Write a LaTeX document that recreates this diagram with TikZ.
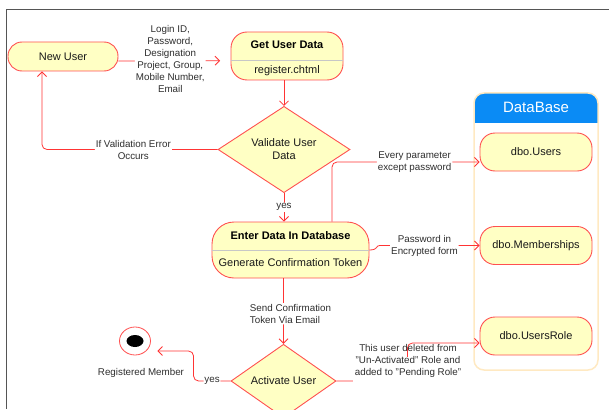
\documentclass[tikz,border=0pt]{standalone}
\usepackage{fontspec}
\setmainfont{Liberation Sans}
\usetikzlibrary{shapes.geometric,arrows.meta,calc}
\definecolor{flowred}{HTML}{FF3434}
\definecolor{boxred}{HTML}{FF5050}
\definecolor{boxfill}{HTML}{FFFFC4}
\definecolor{dbblue}{HTML}{0A8BF5}
\definecolor{dbedge}{HTML}{FFE9C2}
\definecolor{framegray}{HTML}{555555}
\definecolor{labelgray}{HTML}{2E2E2E}
\begin{document}
\begin{tikzpicture}[x=1pt,y=-1pt,
  actbox/.style={draw=boxred, fill=boxfill, line width=0.9pt, inner sep=0pt},
  decision/.style={diamond, draw=boxred, fill=boxfill, line width=0.9pt, inner sep=0pt,
    align=center, font=\fontsize{11}{13}\selectfont, text=black!90},
  nodetext/.style={font=\fontsize{11}{13}\selectfont, text=black!90},
  titletext/.style={font=\fontsize{11}{13}\selectfont\bfseries, text=black, inner sep=0pt},
  flow/.style={draw=flowred, line width=0.8pt, -{Straight Barb[length=4.5pt,width=9pt]},
    rounded corners=5pt},
  flowlabel/.style={fill=white, inner sep=1pt, align=center,
    font=\fontsize{9.8}{12}\selectfont, text=labelgray},
  divider/.style={draw=black!22, line width=0.8pt},
]
\useasboundingbox (0,0) rectangle (609,409);

% page frame
\draw[framegray, line width=0.9pt] (609,9) -- (6.5,9) -- (6.5,409);

% activities
\node[actbox, nodetext, rounded corners=14pt, minimum width=110pt, minimum height=29pt]
  (nu) at (63,56.5) {New User};

\node[actbox, rounded corners=16pt, minimum width=112pt, minimum height=48pt] (gud) at (287,56) {};
\draw[divider] ($(gud.west)+(0.6,4)$) -- ($(gud.east)+(-0.6,4)$);
\node[titletext] (gudt) at (287,45) {Get User Data};
\node[nodetext, inner sep=0pt] (guds) at (287,71) {register.chtml};

\node[decision, minimum width=132pt, minimum height=65pt] (val) at (284,149.5) {Validate User\\Data};

\node[actbox, rounded corners=22pt, minimum width=157pt, minimum height=56pt] (ed) at (290.5,250) {};
\draw[divider] ($(ed.west)+(0.6,0)$) -- ($(ed.east)+(-0.6,0)$);
\node[titletext] (edt) at (290.5,235.5) {Enter Data In Database};
\node[nodetext, inner sep=0pt] (eds) at (290.5,262.5) {Generate Confirmation Token};

\node[decision, minimum width=105pt, minimum height=51pt] (act) at (283.5,381) {Activate User};

% final state
\node[ellipse, draw=boxred, fill=white, line width=0.8pt, inner sep=0pt,
  minimum width=31pt, minimum height=28pt] (fin) at (135,341) {};
\node[ellipse, fill=black, inner sep=0pt, minimum width=17pt, minimum height=12pt]
  (fincore) at (fin.center) {};
\node[flowlabel, fill=none] (finl) at (141,373) {Registered Member};

% database container
\begin{scope}
  \clip[rounded corners=10pt] (474,93) rectangle (598,370);
  \fill[dbblue] (474,93) rectangle (598,122.5);
\end{scope}
\draw[dbedge, line width=1.5pt, rounded corners=10pt] (474,93) rectangle (598,370);
\node[text=white, font=\fontsize{15}{18}\selectfont] (dbt) at (536,107.5) {DataBase};

\node[actbox, nodetext, rounded corners=15pt, minimum width=112pt, minimum height=38pt]
  (users) at (536,152) {dbo.Users};
\node[actbox, nodetext, rounded corners=15pt, minimum width=112pt, minimum height=38pt]
  (memb) at (536,245.5) {dbo.Memberships};
\node[actbox, nodetext, rounded corners=15pt, minimum width=112pt, minimum height=38pt]
  (role) at (536,336) {dbo.UsersRole};

% control flow
\draw[flow] ($(nu.east)+(0,4.5)$) -- ($(gud.west)+(-10.5,4.7)$)
  node[flowlabel, pos=0.51, yshift=1.5pt]
  {Login ID,\\Password,\\Designation\\Project, Group,\\Mobile Number,\\Email};

\draw[flow] (gud.south -| val.north) -- (val.north);

\draw[flow] (val.west) -| ([xshift=-21pt]nu.south)
  node[flowlabel, pos=0.24] {If Validation Error\\Occurs};

\draw[flow] (val.south) -- (val.south |- ed.north) node[flowlabel, pos=0.5] {yes};

\draw[flow] ([xshift=41.5pt]ed.north) |- ([yshift=-10pt]users.west)
  node[flowlabel, pos=0.78] {Every parameter\\except password};

\draw[flow] (ed.east) .. controls +(9,0) and +(-9,0) .. ($(memb.west)+(-95,0)$)
  -- (memb.west) node[flowlabel, pos=0.42] {Password in\\Encrypted form};

\draw[flow] (ed.south -| act.north) -- (act.north)
  node[flowlabel, align=left, pos=0.54, xshift=7pt] {Send Confirmation\\Token Via Email};

\draw[flow] (act.west) -- node[flowlabel, pos=0.5] {yes} ++(-37,0)
  |- ($(fin.east)+(6.5,10)$);

\draw[flow] (act.east) -- ++(71,0) |- ([yshift=-7pt]role.west);
\fill[white] (353,357) rectangle (465,385);
\node[flowlabel, fill=none] (rolel) at (408,361)
  {This user deleted from\\"Un-Activated" Role and\\added to "Pending Role"};
\end{tikzpicture}
\end{document}
